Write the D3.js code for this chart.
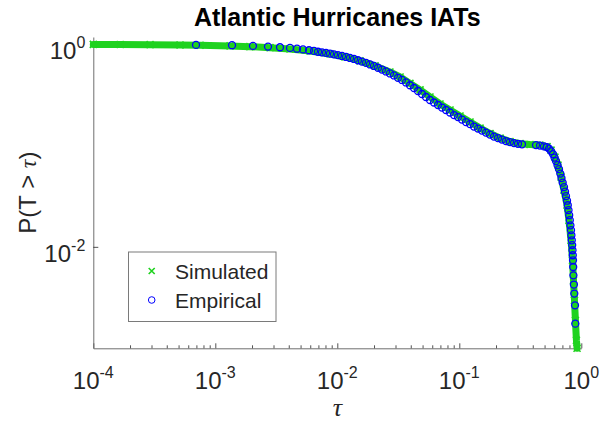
<!DOCTYPE html>
<html><head><meta charset="utf-8">
<script src="https://cdn.jsdelivr.net/npm/d3@7/dist/d3.min.js"></script>
<style>body{margin:0;background:#fff} svg{display:block}</style>
</head><body>
<script>
// ---- data ----
const simTau = [1.0e-4, 1.66e-4, 2.92e-4, 5.14e-4, 7.5e-4, 1.32e-3, 1.92e-3, 2.81e-3, 4.09e-3, 5.97e-3, 8.71e-3,
  0.01156, 0.01535, 0.0204, 0.0270, 0.0327, 0.0394, 0.0477, 0.0575, 0.0695, 0.0840, 0.1014, 0.1225, 0.148,
  0.1787, 0.216, 0.2606, 0.315, 0.380, 0.458, 0.524, 0.565, 0.608, 0.644, 0.683, 0.721, 0.764, 0.792, 0.824,
  0.847, 0.863, 0.879, 0.895, 0.912, 0.923];
const simP = [0.989, 0.986, 0.984, 0.977, 0.971, 0.956, 0.940, 0.919, 0.893, 0.853, 0.797,
  0.744, 0.680, 0.607, 0.529, 0.472, 0.408, 0.352, 0.300, 0.256, 0.223, 0.195, 0.170, 0.148,
  0.131, 0.118, 0.109, 0.104, 0.102, 0.1007, 0.0973, 0.0899, 0.0766, 0.0639, 0.0487, 0.0362, 0.0258, 0.0183, 0.0116,
  0.00738, 0.00468, 0.00297, 0.00188, 0.00120, 0.00100];

const empTau = [6.95e-4, 1.371e-3, 2.037e-3, 2.704e-3, 3.391e-3, 4.095e-3, 4.673e-3, 5.234e-3, 5.861e-3, 6.442e-3,
  6.949e-3, 7.491e-3, 8.08e-3, 8.713e-3, 9.397e-3, 0.01013, 0.01093, 0.01179, 0.01271, 0.01371,
  0.01478, 0.01594, 0.01719, 0.01854, 0.01999, 0.02156, 0.02325, 0.02507, 0.02704, 0.02916,
  0.03144, 0.03391, 0.03657, 0.03943, 0.04253, 0.04586, 0.04945, 0.05333, 0.05752, 0.06203,
  0.06689, 0.07214, 0.07780, 0.08390, 0.09048, 0.09757, 0.1052, 0.1135, 0.1224, 0.1320,
  0.1423, 0.1535, 0.1655, 0.1785, 0.1925, 0.2076, 0.2239, 0.2414, 0.2603, 0.2808,
  0.3028, 0.3265, 0.4253, 0.4586, 0.4945, 0.5224,
  0.5435, 0.5644, 0.5861, 0.6030, 0.6203, 0.6381, 0.6565, 0.6729, 0.6882, 0.7039,
  0.7215, 0.7353, 0.7493, 0.7636, 0.7751, 0.7855, 0.7959, 0.8049, 0.8142, 0.8234,
  0.8297, 0.8358, 0.8422, 0.8470, 0.8517, 0.8551, 0.8582, 0.8615, 0.8695, 0.8762, 0.8880, 0.8929];
const empP = [0.9775, 0.9709, 0.9556, 0.9405, 0.9277, 0.9131, 0.8967, 0.8825, 0.8666, 0.8530,
  0.8375, 0.8262, 0.8151, 0.8022, 0.7896, 0.7750, 0.7611, 0.7440, 0.7273, 0.7111,
  0.6903, 0.6687, 0.6495, 0.6275, 0.6065, 0.5821, 0.5590, 0.5354, 0.5114, 0.4887,
  0.4637, 0.4412, 0.4169, 0.3912, 0.3678, 0.3436, 0.3209, 0.2997, 0.2801, 0.2646,
  0.2499, 0.2360, 0.2231, 0.2108, 0.1991, 0.1902, 0.1797, 0.1698, 0.1623, 0.1533,
  0.1464, 0.1400, 0.1337, 0.1278, 0.1221, 0.1181, 0.1141, 0.1103, 0.1078, 0.1054,
  0.1037, 0.1025, 0.1007, 0.0995, 0.0977, 0.0962,
  0.0930, 0.0878, 0.0820, 0.0758, 0.0700, 0.0639, 0.0583, 0.0527, 0.0476, 0.0429,
  0.0388, 0.0350, 0.0316, 0.0285, 0.0257, 0.0230, 0.0205, 0.0183, 0.0163, 0.0146,
  0.0130, 0.0116, 0.0104, 0.00926, 0.00826, 0.00737, 0.00633, 0.00524, 0.00425, 0.00346, 0.00265, 0.00175];

const xTicks = [1e-4, 1e-3, 1e-2, 1e-1, 1];
const xTickExp = ["-4", "-3", "-2", "-1", "0"];
const yTicks = [1e-2, 1];
const yTickExp = ["-2", "0"];
const titleText = "Atlantic Hurricanes IATs";
const legendLabels = ["Simulated", "Empirical"];

// ---- drawing ----
const W = 603, H = 423;
const FONT = "'Liberation Sans', Arial, sans-serif";
const GREEN = "#1fd21f", BLUE = "#0000ff", AX = "#262626";

const svg = d3.select("body").append("svg").attr("width", W).attr("height", H)
  .style("background", "#fff");

const x = d3.scaleLog().domain([1e-4, 1]).range([93.3, 581.3]);
const y = d3.scaleLog().domain([1e-3, 1.17]).range([348.3, 37]);
const y0 = y(1e-3);

// minor x ticks
const minorX = [];
[1e-4, 1e-3, 1e-2, 1e-1].forEach(d => { for (let k = 2; k <= 9; k++) minorX.push(d * k); });

const gx = svg.append("g").attr("transform", `translate(0,${y0})`);
gx.call(d3.axisBottom(x).tickValues(xTicks).tickSizeInner(-5).tickSizeOuter(0).tickFormat(""));
gx.append("g").call(d3.axisBottom(x).tickValues(minorX).tickSizeInner(-3).tickSizeOuter(0).tickFormat(""))
  .select(".domain").remove();
gx.selectAll("path.domain").attr("stroke", "#6e6e6e");
gx.selectAll("line").attr("stroke", AX).attr("stroke-width", 0.8);

const gy = svg.append("g").attr("transform", `translate(${x(1e-4)},0)`);
gy.call(d3.axisLeft(y).tickValues(yTicks).tickSizeInner(-5).tickSizeOuter(0).tickFormat(""));
gy.selectAll("path.domain").attr("stroke", "#6e6e6e");
gy.selectAll("line").attr("stroke", AX).attr("stroke-width", 0.8);

// tick labels with superscripts
const xl = svg.append("g").selectAll("text").data(xTicks).join("text")
  .attr("x", d => x(d)).attr("y", y0 + 41)
  .attr("text-anchor", "middle").attr("font-family", FONT).attr("font-size", 24).attr("fill", AX);
xl.append("tspan").text("10");
xl.append("tspan").attr("dy", -11).attr("font-size", 16).text((d, i) => xTickExp[i]);

const yl = svg.append("g").selectAll("text").data(yTicks).join("text")
  .attr("x", x(1e-4) - 8).attr("y", d => y(d) + 15.5)
  .attr("text-anchor", "end").attr("font-family", FONT).attr("font-size", 24).attr("fill", AX);
yl.append("tspan").text("10");
yl.append("tspan").attr("dy", -11).attr("font-size", 16).text((d, i) => yTickExp[i]);

// simulated: thick band of x markers
const sim = simTau.map((t, i) => [t, simP[i]]);
svg.append("path").datum(sim)
  .attr("d", d3.line().x(d => x(d[0])).y(d => y(d[1])))
  .attr("fill", "none").attr("stroke", GREEN).attr("stroke-width", 7)
  .attr("stroke-linejoin", "round").attr("stroke-linecap", "round");
svg.append("g").selectAll("path").data(sim).join("path")
  .attr("transform", d => `translate(${x(d[0])},${y(d[1])})`)
  .attr("d", "M-3.5,-3.5L3.5,3.5M-3.5,3.5L3.5,-3.5")
  .attr("stroke", GREEN).attr("stroke-width", 1.6);

// empirical: blue circles
const emp = empTau.map((t, i) => [t, empP[i]]);
svg.append("g").selectAll("circle").data(emp).join("circle")
  .attr("cx", d => x(d[0])).attr("cy", d => y(d[1])).attr("r", 3.5)
  .attr("fill", "none").attr("stroke", BLUE).attr("stroke-width", 1.3);

// title and axis labels
svg.append("text").attr("x", (x(1e-4) + x(1)) / 2).attr("y", 26)
  .attr("text-anchor", "middle").attr("font-family", FONT).attr("font-weight", "bold")
  .attr("font-size", 25).attr("fill", "#000").text(titleText);

const ylab = svg.append("text")
  .attr("transform", `translate(36,${(y0 + 37) / 2}) rotate(-90)`)
  .attr("text-anchor", "middle").attr("font-family", FONT).attr("font-size", 24).attr("fill", AX);
ylab.append("tspan").text("P(T > ");
ylab.append("tspan").attr("font-family", "'Liberation Serif', serif").attr("font-style", "italic").text("τ");
ylab.append("tspan").text(")");

svg.append("text").attr("x", (x(1e-4) + x(1)) / 2).attr("y", 416)
  .attr("text-anchor", "middle").attr("font-family", "'Liberation Serif', serif")
  .attr("font-style", "italic").attr("font-size", 26).attr("fill", AX).text("τ");

// legend
const lg = svg.append("g");
lg.append("rect").attr("x", 128.5).attr("y", 252).attr("width", 147.5).attr("height", 69.5)
  .attr("fill", "#fff").attr("stroke", "#7a7a7a").attr("stroke-width", 1);
const rowY = [271, 300];
lg.append("path").attr("transform", `translate(151.7,${rowY[0]})`)
  .attr("d", "M-3,-3L3,3M-3,3L3,-3").attr("stroke", GREEN).attr("stroke-width", 1.6);
lg.append("circle").attr("cx", 151.7).attr("cy", rowY[1]).attr("r", 3.3)
  .attr("fill", "none").attr("stroke", BLUE).attr("stroke-width", 1);
lg.selectAll("text").data(legendLabels).join("text")
  .attr("x", 175).attr("y", (d, i) => rowY[i] + 7.5)
  .attr("font-family", FONT).attr("font-size", 21).attr("fill", AX).text(d => d);
</script>
</body></html>
